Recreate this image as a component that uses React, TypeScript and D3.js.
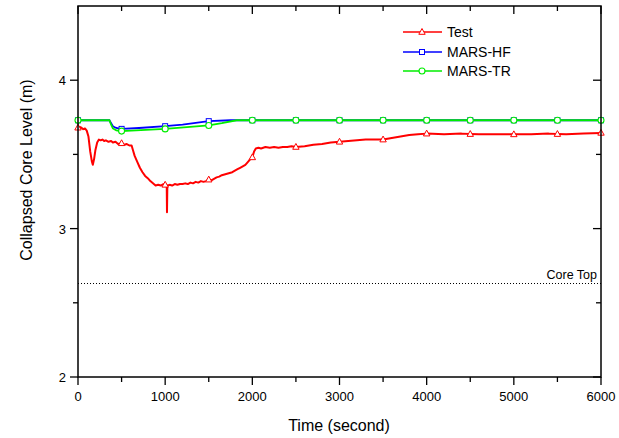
import React from "react";
import * as d3 from "d3";

const testT = [0,20,40,60,80,100,120,140,160,170,185,200,220,240,260,280,300,320,350,380,400,430,460,500,530,560,590,615,630,650,680,710,740,770,800,830,860,890,920,950,980,1000,1010,1018,1021,1025,1050,1080,1110,1140,1170,1200,1230,1260,1290,1320,1350,1380,1410,1440,1470,1500,1530,1560,1590,1620,1650,1680,1710,1740,1770,1800,1830,1860,1890,1920,1950,1980,2000,2020,2040,2070,2100,2150,2200,2250,2300,2350,2400,2450,2500,2600,2700,2800,2900,3000,3100,3200,3300,3400,3500,3600,3700,3800,3900,4000,4200,4400,4500,4600,4800,5000,5200,5400,5500,5600,5800,6000];
const testV = [3.68,3.685,3.68,3.67,3.675,3.66,3.62,3.52,3.45,3.43,3.47,3.53,3.58,3.60,3.595,3.60,3.59,3.595,3.585,3.59,3.58,3.585,3.57,3.575,3.565,3.57,3.56,3.56,3.53,3.49,3.45,3.41,3.38,3.355,3.34,3.32,3.305,3.29,3.295,3.29,3.30,3.295,3.295,3.29,3.11,3.29,3.295,3.29,3.30,3.295,3.30,3.30,3.305,3.30,3.31,3.305,3.315,3.31,3.32,3.315,3.32,3.33,3.325,3.335,3.345,3.35,3.36,3.365,3.37,3.375,3.38,3.39,3.40,3.41,3.42,3.43,3.45,3.47,3.48,3.52,3.54,3.545,3.54,3.55,3.545,3.55,3.545,3.55,3.55,3.555,3.55,3.555,3.565,3.57,3.58,3.585,3.59,3.595,3.60,3.60,3.60,3.61,3.62,3.63,3.635,3.64,3.635,3.64,3.637,3.635,3.635,3.635,3.635,3.64,3.637,3.635,3.64,3.645];

const hfT = [0,360,380,400,430,480,500,700,1000,1200,1500,1750,2000,2500,3000,3500,4000,4500,5000,5500,6000];
const hfV = [3.73,3.73,3.71,3.69,3.68,3.672,3.672,3.678,3.69,3.70,3.724,3.73,3.73,3.73,3.73,3.73,3.73,3.73,3.73,3.73,3.73];

const trT = [0,360,380,400,440,490,500,1000,1500,1650,1820,2000,2500,3000,3500,4000,4500,5000,5500,6000];
const trV = [3.73,3.73,3.70,3.675,3.662,3.657,3.657,3.672,3.695,3.71,3.73,3.73,3.73,3.73,3.73,3.73,3.73,3.73,3.73,3.73];

const xTicks = [0,1000,2000,3000,4000,5000,6000];
const xMinor = [500,1500,2500,3500,4500,5500];
const yTicks = [2,3,4];
const yMinor = [2.5,3.5];
const coreTop = 2.63;
const legendNames = ["Test","MARS-HF","MARS-TR"];

const W = 619, H = 438;
const L = 78, R = 601, T = 6, B = 377;
const FONT = "Arial, 'Liberation Sans', sans-serif";

export default function App() {
  const x = d3.scaleLinear().domain([0, 6000]).range([L, R]);
  const y = d3.scaleLinear().domain([2, 4.5]).range([B, T]);
  const line = d3.line<[number, number]>().x(d => x(d[0])).y(d => y(d[1]));
  const zip = (a: number[], b: number[]) => a.map((t, i) => [t, b[i]] as [number, number]);
  const test = zip(testT, testV);
  const hf = zip(hfT, hfV);
  const tr = zip(trT, trV);
  const mk = (arr: [number, number][]) => arr.filter(d => d[0] % 500 === 0);

  const tri = (cx: number, cy: number, key: any) => (
    <path key={key} d={`M${cx},${cy - 3.5}L${cx + 3.2},${cy + 2.3}L${cx - 3.2},${cy + 2.3}Z`} fill="white" stroke="#ff0000" strokeWidth={1} />
  );
  const sq = (cx: number, cy: number, key: any) => (
    <rect key={key} x={cx - 2.5} y={cy - 2.5} width={5} height={5} fill="white" stroke="#0000ff" strokeWidth={1} />
  );
  const circ = (cx: number, cy: number, key: any) => (
    <circle key={key} cx={cx} cy={cy} r={3} fill="white" stroke="#00ee00" strokeWidth={1.1} />
  );

  const legY = [32, 52, 71];
  const colors = ["#ff0000", "#0000ff", "#00ee00"];
  const markerFns = [tri, sq, circ];

  return (
    <svg width={W} height={H} style={{ position: "absolute", left: 0, top: 0, background: "white" }} fontFamily={FONT}>
      <rect x={0} y={0} width={W} height={H} fill="white" />
      <line x1={L} x2={R} y1={y(coreTop)} y2={y(coreTop)} stroke="black" strokeWidth={1} strokeDasharray="1,2" />
      <text x={597} y={y(coreTop) - 5} textAnchor="end" fontSize={12.5}>Core Top</text>

      <path d={line(test) || ""} fill="none" stroke="#ff0000" strokeWidth={2} strokeLinejoin="round" />
      <path d={line(hf) || ""} fill="none" stroke="#0000ff" strokeWidth={1.8} />
      <path d={line(tr) || ""} fill="none" stroke="#00ee00" strokeWidth={1.8} />
      {mk(test).map((d, i) => tri(x(d[0]), y(d[1]), "t" + i))}
      {mk(hf).map((d, i) => sq(x(d[0]), y(d[1]), "h" + i))}
      {mk(tr).map((d, i) => circ(x(d[0]), y(d[1]), "c" + i))}

      <rect x={L} y={T} width={R - L} height={B - T} fill="none" stroke="black" strokeWidth={1.5} />

      {xTicks.map(t => (
        <g key={"xt" + t}>
          <line x1={x(t)} x2={x(t)} y1={B} y2={B + 8} stroke="black" strokeWidth={1.3} />
          <line x1={x(t)} x2={x(t)} y1={T} y2={T + 8} stroke="black" strokeWidth={1.3} />
          <text x={x(t)} y={B + 24} textAnchor="middle" fontSize={13}>{t}</text>
        </g>
      ))}
      {xMinor.map(t => (
        <g key={"xm" + t}>
          <line x1={x(t)} x2={x(t)} y1={B} y2={B + 5} stroke="black" strokeWidth={1.3} />
          <line x1={x(t)} x2={x(t)} y1={T} y2={T + 5} stroke="black" strokeWidth={1.3} />
        </g>
      ))}
      {yTicks.map(v => (
        <g key={"yt" + v}>
          <line x1={L - 8} x2={L} y1={y(v)} y2={y(v)} stroke="black" strokeWidth={1.3} />
          <line x1={R - 8} x2={R} y1={y(v)} y2={y(v)} stroke="black" strokeWidth={1.3} />
          <text x={L - 12} y={y(v) + 5} textAnchor="end" fontSize={13}>{v}</text>
        </g>
      ))}
      {yMinor.map(v => (
        <g key={"ym" + v}>
          <line x1={L - 5} x2={L} y1={y(v)} y2={y(v)} stroke="black" strokeWidth={1.3} />
          <line x1={R - 5} x2={R} y1={y(v)} y2={y(v)} stroke="black" strokeWidth={1.3} />
        </g>
      ))}

      <text x={339} y={431} textAnchor="middle" fontSize={16}>Time (second)</text>
      <text transform={`translate(32,170) rotate(-90)`} textAnchor="middle" fontSize={16}>Collapsed Core Level (m)</text>

      {legendNames.map((n, i) => (
        <g key={"lg" + i}>
          <line x1={403} x2={442} y1={legY[i]} y2={legY[i]} stroke={colors[i]} strokeWidth={1.3} />
          {markerFns[i](422, legY[i], "lm" + i)}
          <text x={447} y={legY[i] + 5} fontSize={14}>{n}</text>
        </g>
      ))}
    </svg>
  );
}
